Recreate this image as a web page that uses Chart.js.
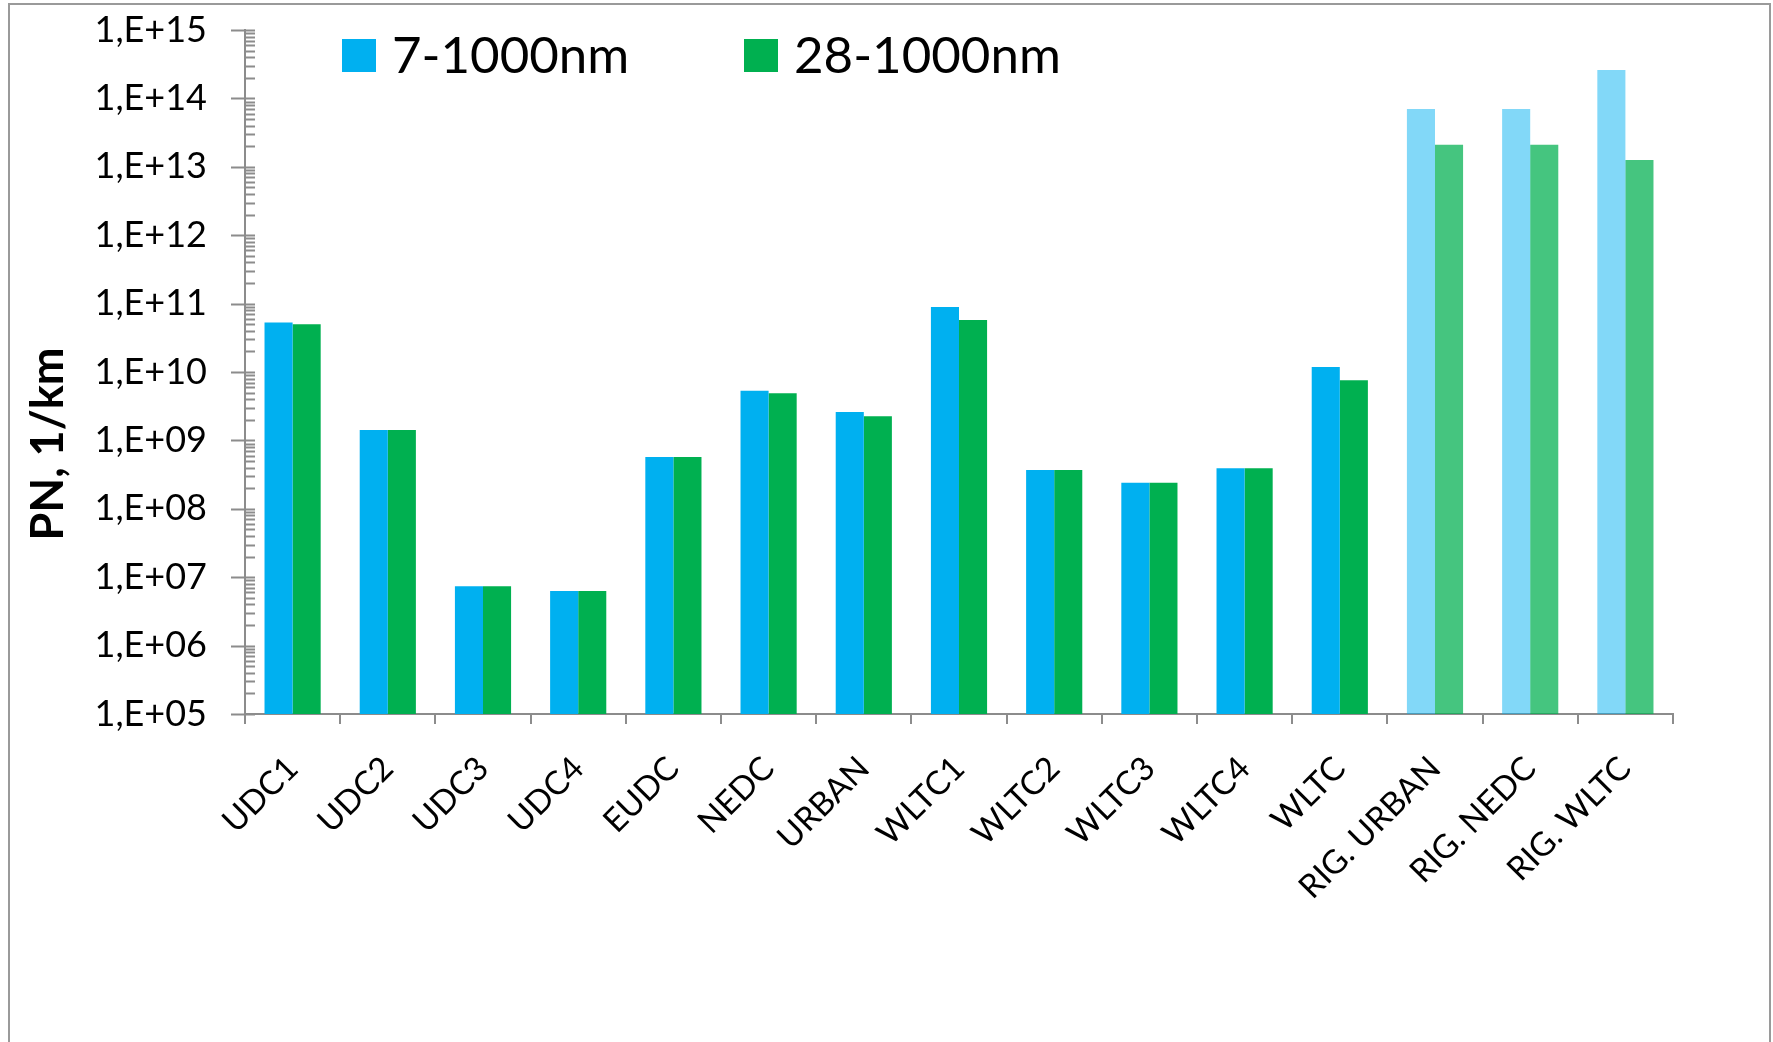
<!DOCTYPE html>
<html>
<head>
<meta charset="utf-8">
<title>PN, 1/km</title>
<script src="https://cdn.jsdelivr.net/npm/chart.js@4.4.1/dist/chart.umd.min.js"></script>
<style>
  html, body { margin: 0; padding: 0; background: #fff; }
  #wrap { position: relative; width: 1773px; height: 1042px; overflow: hidden; }
  #moldura { position: absolute; left: 8px; top: 3px; width: 1763px; height: 1100px; border: 2px solid #9a9a9a; border-bottom: none; box-sizing: border-box; }
  canvas { position: absolute; left: 0; top: 0; }
</style>
</head>
<body>
<div id="wrap">
  <div id="moldura"></div>
  <canvas id="pnChart" width="1773" height="1042"></canvas>
</div>
<script>
// ===== Dados =====
const ciclos = ['UDC1', 'UDC2', 'UDC3', 'UDC4', 'EUDC', 'NEDC', 'URBAN', 'WLTC1', 'WLTC2', 'WLTC3', 'WLTC4', 'WLTC', 'RIG. URBAN', 'RIG. NEDC', 'RIG. WLTC'];
const pn7 = [5.3e10, 1.42e9, 7.4e6, 6.3e6, 5.7e8, 5.3e9, 2.6e9, 8.9e10, 3.7e8, 2.4e8, 3.9e8, 1.18e10, 7.0e13, 7.0e13, 2.6e14];
const pn28 = [5.0e10, 1.42e9, 7.4e6, 6.3e6, 5.7e8, 4.9e9, 2.25e9, 5.75e10, 3.7e8, 2.4e8, 3.9e8, 7.6e9, 2.1e13, 2.1e13, 1.26e13];
const legendas = ['7-1000nm', '28-1000nm'];
const potencias = [1e5, 1e6, 1e7, 1e8, 1e9, 1e10, 1e11, 1e12, 1e13, 1e14, 1e15];
const rotulosY = ['1,E+05', '1,E+06', '1,E+07', '1,E+08', '1,E+09', '1,E+10', '1,E+11', '1,E+12', '1,E+13', '1,E+14', '1,E+15'];

// ===== Cores =====
const AZUL = '#00B0F0';
const VERDE = '#00B050';
const AZUL_RIG = 'rgba(0, 176, 240, 0.49)';
const VERDE_RIG = 'rgba(0, 176, 80, 0.73)';
const CINZA = '#8c8c8c';
const FONTE = 'Lato, "Open Sans", sans-serif';

const ehRig = i => ciclos[i].startsWith('RIG');

// ===== Marcas do eixo Y e legenda =====
const decoracao = {
    id: 'decoracao',
    afterDraw(chart) {
        const { ctx, chartArea, scales } = chart;
        const y = scales.y;
        const x0 = chartArea.left;

        ctx.save();
        ctx.strokeStyle = CINZA;
        ctx.lineWidth = 2;
        ctx.beginPath();
        potencias.forEach((p, i) => {
            const py = Math.round(y.getPixelForValue(p)) + 0.5;
            ctx.moveTo(x0 - 14, py);
            ctx.lineTo(x0 + 10, py);
            if (i === potencias.length - 1) return;
            for (let k = 2; k <= 9; k++) {
                const pm = Math.round(y.getPixelForValue(k * p)) + 0.5;
                ctx.moveTo(x0, pm);
                ctx.lineTo(x0 + 10, pm);
            }
        });
        ctx.stroke();

        // legenda
        const cores = [AZUL, VERDE];
        const posLegenda = [97, 499];
        ctx.font = `51px ${FONTE}`;
        ctx.textBaseline = 'middle';
        ctx.textAlign = 'left';
        legendas.forEach((txt, i) => {
            const bx = x0 + posLegenda[i];
            ctx.fillStyle = cores[i];
            ctx.fillRect(bx, 39, 34, 33);
            ctx.fillStyle = '#000';
            ctx.fillText(txt, bx + 50, 57);
        });

        // titulo do eixo Y
        ctx.translate(48, 444);
        ctx.rotate(-Math.PI / 2);
        ctx.font = `bold 45px ${FONTE}`;
        ctx.textAlign = 'center';
        ctx.fillText('PN, 1/km', 0, 0);
        ctx.restore();
    }
};

// ===== Gráfico =====
const ctx = document.getElementById('pnChart').getContext('2d');
new Chart(ctx, {
    type: 'bar',
    data: {
        labels: ciclos,
        datasets: [
            {
                label: legendas[0],
                data: pn7,
                backgroundColor: c => ehRig(c.dataIndex) ? AZUL_RIG : AZUL,
                borderWidth: 0
            },
            {
                label: legendas[1],
                data: pn28,
                backgroundColor: c => ehRig(c.dataIndex) ? VERDE_RIG : VERDE,
                borderWidth: 0
            }
        ]
    },
    options: {
        responsive: false,
        animation: false,
        events: [],
        layout: { padding: { left: 0, top: 30, right: 100, bottom: 108 } },
        datasets: { bar: { categoryPercentage: 0.59, barPercentage: 1.0 } },
        plugins: {
            legend: { display: false },
            tooltip: { enabled: false }
        },
        scales: {
            x: {
                grid: { display: true, drawOnChartArea: false, drawTicks: true, tickLength: 10, color: CINZA, lineWidth: 2 },
                border: { display: true, color: CINZA, width: 2 },
                ticks: {
                    autoSkip: false,
                    maxRotation: 45,
                    minRotation: 45,
                    padding: 25,
                    color: '#000',
                    font: { family: FONTE, size: 33 }
                },
                afterFit: s => { s.height = 220; }
            },
            y: {
                type: 'logarithmic',
                min: 1e5,
                max: 1e15,
                // marcas desenhadas pelo plugin; tickLength só afasta os rótulos do eixo
                grid: { display: false, drawTicks: true, tickLength: 38 },
                border: { display: true, color: CINZA, width: 2 },
                ticks: {
                    autoSkip: false,
                    padding: 0,
                    color: '#000',
                    font: { family: FONTE, size: 36 },
                    callback: v => {
                        const i = potencias.indexOf(v);
                        return i >= 0 ? rotulosY[i] : '';
                    }
                },
                afterFit: s => { s.width = 245; }
            }
        }
    },
    plugins: [decoracao]
});
</script>
</body>
</html>
